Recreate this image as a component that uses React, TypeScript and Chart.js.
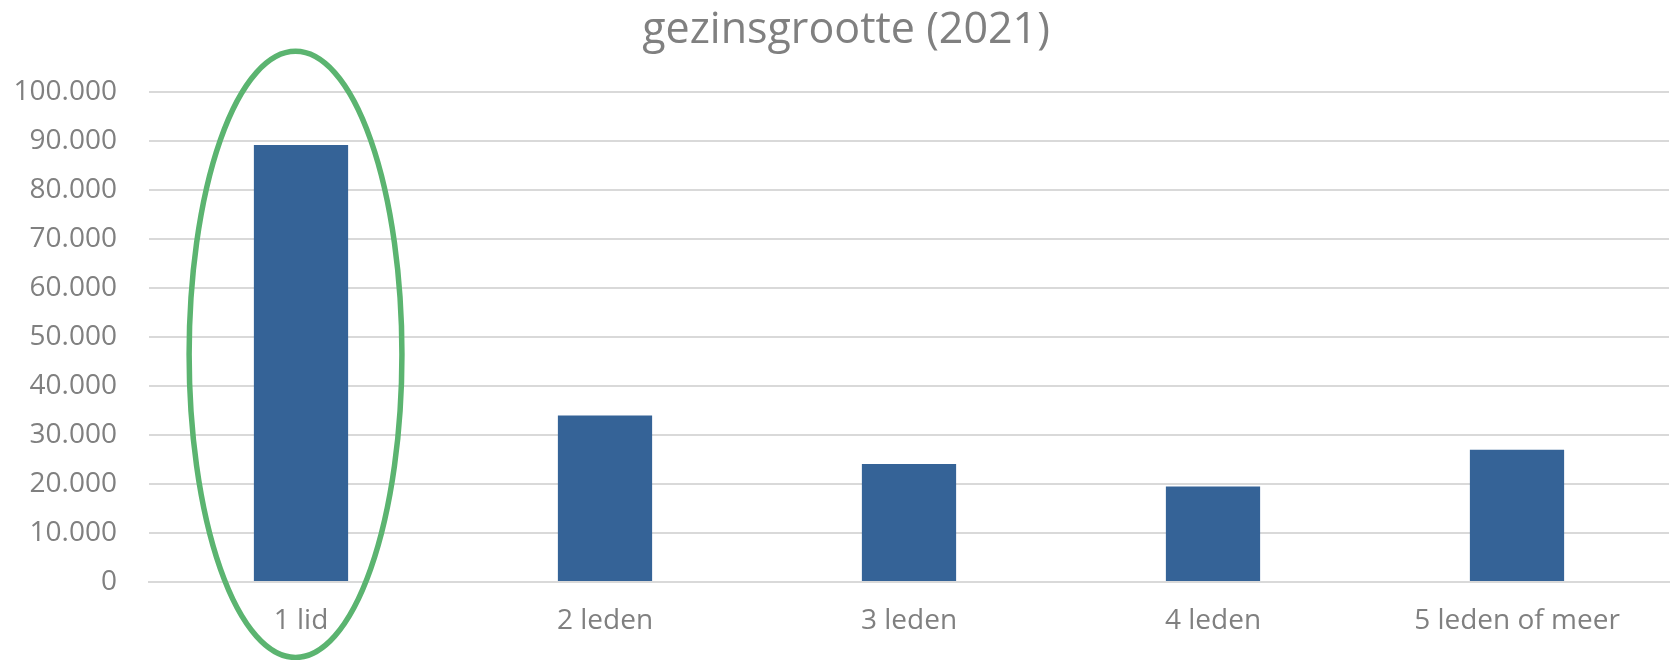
import React, { useEffect, useRef } from "react";
import { Chart, registerables } from "chart.js";

Chart.register(...registerables);

const TITLE = "gezinsgrootte (2021)";
const categories = ["1 lid", "2 leden", "3 leden", "4 leden", "5 leden of meer"];
const households = [89200, 34000, 24100, 19500, 27000];
const yMin = 0;
const yMax = 100000;
const yStep = 10000;
// highlight ellipse around the first category (value range and half-width in category units)
const highlightIndex = 0;
const highlightCenterOffset = -0.018;
const highlightValueTop = 108300;
const highlightValueBottom = -15400;
const highlightHalfWidth = 0.35;

const fmt = (v: number) => String(Math.round(v)).replace(/\B(?=(\d{3})+(?!\d))/g, ".");

const ellipsePlugin = {
  id: "highlightEllipse",
  afterDraw(chart: any) {
    const { ctx, scales } = chart;
    const catW = scales.x.getPixelForValue(1) - scales.x.getPixelForValue(0);
    const x = scales.x.getPixelForValue(highlightIndex) + catW * highlightCenterOffset;
    const yTop = scales.y.getPixelForValue(highlightValueTop);
    const yBot = scales.y.getPixelForValue(highlightValueBottom);
    ctx.save();
    ctx.beginPath();
    ctx.ellipse(x, (yTop + yBot) / 2, catW * highlightHalfWidth, (yBot - yTop) / 2, 0, 0, Math.PI * 2);
    ctx.strokeStyle = "#5BB470";
    ctx.lineWidth = 5.5;
    ctx.stroke();
    ctx.restore();
  },
};

const titlePlugin = {
  id: "offsetTitle",
  afterDraw(chart: any) {
    const { ctx } = chart;
    ctx.save();
    ctx.font = "43px 'Open Sans'";
    ctx.fillStyle = "#808080";
    ctx.textAlign = "center";
    ctx.textBaseline = "middle";
    ctx.fillText(TITLE, 846, 31);
    ctx.restore();
  },
};

export default function App() {
  const ref = useRef<HTMLCanvasElement>(null);
  useEffect(() => {
    document.body.style.margin = "0";
    const chart = new Chart(ref.current!, {
      type: "bar",
      data: {
        labels: categories,
        datasets: [
          {
            data: households,
            backgroundColor: "#356397",
            categoryPercentage: 1,
            barPercentage: 0.31,
          },
        ],
      },
      plugins: [ellipsePlugin, titlePlugin],
      options: {
        animation: false,
        responsive: false,
        maintainAspectRatio: false,
        layout: { padding: { left: 0, right: 3, top: 92, bottom: 0 } },
        plugins: {
          legend: { display: false },
          tooltip: { enabled: false },
          title: { display: false },
        },
        scales: {
          x: {
            grid: { display: false, drawTicks: false },
            border: { display: true, color: "#d9d9d9", width: 2 },
            ticks: {
              color: "#808080",
              font: { family: "'Open Sans'", size: 28 },
              padding: 22,
              maxRotation: 0,
            },
            afterFit(s: any) {
              s.height = 78;
            },
          },
          y: {
            min: yMin,
            max: yMax,
            border: { display: false },
            grid: { color: "#d9d9d9", lineWidth: 2, drawTicks: false },
            ticks: {
              stepSize: yStep,
              color: "#808080",
              font: { family: "'Open Sans'", size: 28 },
              padding: 32,
              callback: (v: any) => fmt(Number(v)),
            },
            afterFit(s: any) {
              s.width = 149;
            },
          },
        },
      },
    });
    return () => chart.destroy();
  }, []);
  return (
    <div style={{ width: 1672, height: 660 }}>
      <canvas ref={ref} width={1672} height={660} style={{ display: "block" }} />
    </div>
  );
}
